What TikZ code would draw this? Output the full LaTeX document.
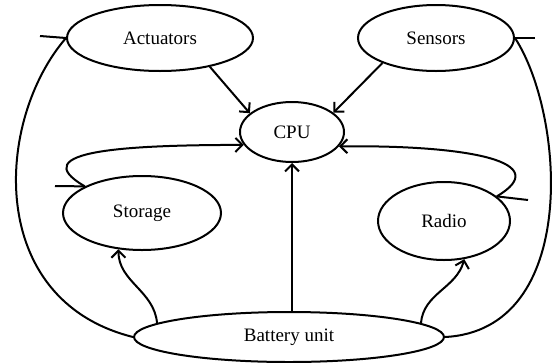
\documentclass[tikz,border=0pt]{standalone}
\usepackage{fontspec}
\setmainfont{Liberation Serif}
\usetikzlibrary{shapes.geometric,arrows.meta}
\begin{document}
\begin{tikzpicture}[x=1pt, y=-1pt, line width=2pt,
      unit/.style = {shape=ellipse, draw, inner sep=0pt, font=\fontsize{19}{22}\selectfont},
      flow/.style = {-{Straight Barb[length=7pt, width=14pt]}}]
      \useasboundingbox (0,0) rectangle (556,362);
      \node[unit, minimum width=186pt, minimum height=66pt] (act) at (160,38) {Actuators};
      \node[unit, minimum width=156pt, minimum height=66pt] (sen) at (436,38) {Sensors};
      \node[unit, minimum width=104pt, minimum height=60pt] (cpu) at (292,132) {CPU};
      \node[unit, minimum width=158pt, minimum height=74pt] (sto) at (142,213) {Storage};
      \node[unit, minimum width=132pt, minimum height=78pt] (rad) at (444,221) {Radio};
      \node[unit, minimum width=310pt, minimum height=50pt] (bat) at (289,337) {Battery unit};
      % short stubs at the ends of the loops
      \coordinate (actstub) at (40,36);
      \coordinate (senstub) at (535,38);
      \coordinate (stostub) at (55,186);
      \coordinate (radstub) at (528,200);
      % into the cpu
      \draw[flow] (act.-30) -- (cpu.156);
      \draw[flow] (sen.205) -- (cpu.25);
      \draw[flow] (bat.north -| cpu) -- (cpu.south);
      \draw[flow] (sto.155) .. controls (22,150) and (130,145) .. (cpu.195);
      \draw[flow] (rad.25) .. controls (555,162) and (470,145) .. (cpu.-17);
      % power from the battery
      \draw[flow] (bat.174) to[out=95, in=-90] (sto.-123);
      \draw[flow] (bat.6) to[out=85, in=-105] (rad.-62);
      \draw (bat.west) .. controls (-15,300) and (-5,120) .. (act.west);
      \draw (bat.east) .. controls (580,330) and (565,115) .. (sen.east);
      \draw (actstub) -- (act.west);
      \draw (senstub) -- (sen.east);
      \draw (stostub) -- (sto.155);
      \draw (radstub) -- (rad.25);
\end{tikzpicture}
\end{document}
